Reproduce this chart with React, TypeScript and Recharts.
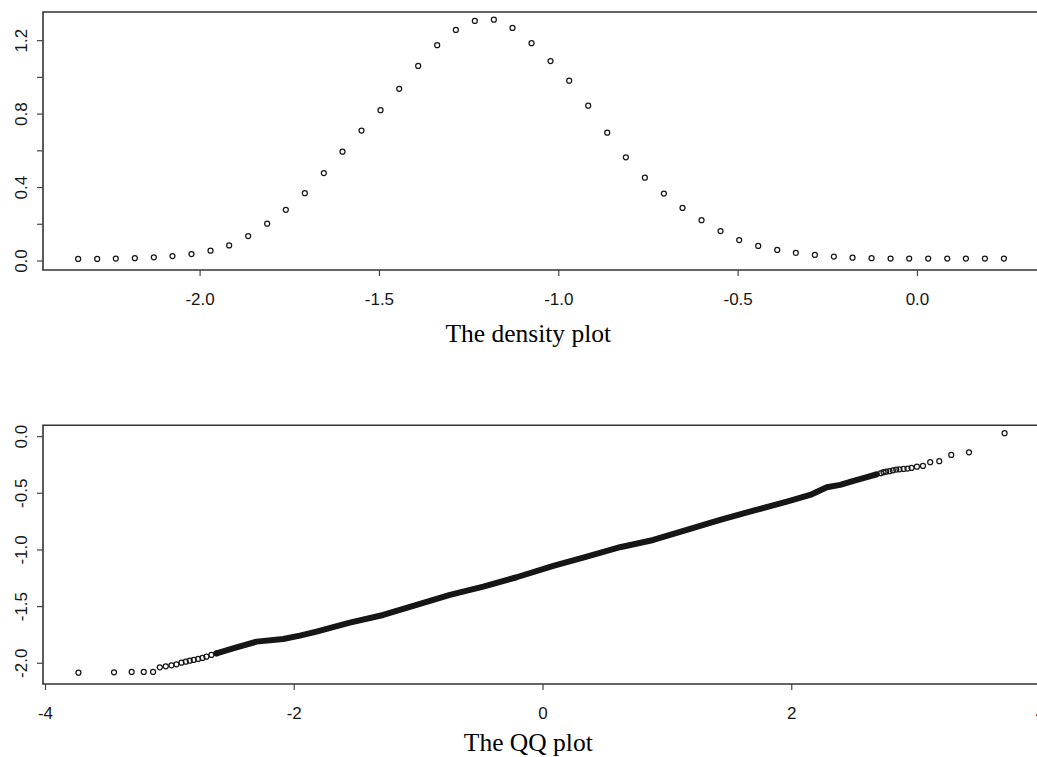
import React from 'react';
import { ScatterChart, Scatter, XAxis, YAxis, ReferenceArea, Label } from 'recharts';

// density plot: 50 evaluation points
const densityX = [
  -2.340, -2.287, -2.235, -2.182, -2.129, -2.077, -2.024, -1.971, -1.919, -1.866,
  -1.813, -1.761, -1.708, -1.655, -1.603, -1.550, -1.497, -1.445, -1.392, -1.339,
  -1.287, -1.234, -1.181, -1.129, -1.076, -1.023, -0.971, -0.918, -0.865, -0.813,
  -0.760, -0.707, -0.655, -0.602, -0.549, -0.497, -0.444, -0.391, -0.339, -0.286,
  -0.233, -0.181, -0.128, -0.075, -0.023, 0.030, 0.083, 0.135, 0.188, 0.241,
];
const densityY = [
  0.011, 0.011, 0.013, 0.015, 0.020, 0.027, 0.038, 0.056, 0.085, 0.136,
  0.203, 0.279, 0.369, 0.479, 0.595, 0.710, 0.821, 0.938, 1.062, 1.175,
  1.258, 1.307, 1.314, 1.269, 1.186, 1.089, 0.982, 0.846, 0.699, 0.565,
  0.454, 0.367, 0.289, 0.222, 0.163, 0.114, 0.082, 0.060, 0.044, 0.033,
  0.024, 0.018, 0.015, 0.013, 0.013, 0.013, 0.013, 0.013, 0.013, 0.013,
];

// QQ plot: the dense middle is drawn as a thick trace through these knots
const qqLineX = [
  -2.625, -2.492, -2.303, -2.089, -1.955, -1.821, -1.553, -1.285, -1.016, -0.748,
  -0.480, -0.212, 0.083, 0.352, 0.619, 0.887, 1.156, 1.424, 1.692, 1.961,
  2.148, 2.282, 2.389, 2.497, 2.604, 2.685,
];
const qqLineY = [
  -1.912, -1.868, -1.809, -1.786, -1.756, -1.721, -1.642, -1.574, -1.485, -1.397,
  -1.324, -1.241, -1.141, -1.059, -0.976, -0.912, -0.823, -0.735, -0.653, -0.574,
  -0.515, -0.447, -0.426, -0.390, -0.358, -0.332,
];

// QQ plot: separate points in both tails
const qqTailX = [
  -3.735, -3.449, -3.307, -3.210, -3.135, -3.081, -3.033, -2.987, -2.947, -2.907,
  -2.872, -2.840, -2.808, -2.773, -2.738, -2.706, -2.666, -2.625,
  2.717, 2.738, 2.759, 2.786, 2.813, 2.840, 2.866, 2.899, 2.931, 2.963,
  3.006, 3.055, 3.113, 3.186, 3.282, 3.425, 3.711,
];
const qqTailY = [
  -2.083, -2.080, -2.077, -2.077, -2.077, -2.036, -2.027, -2.018, -2.009, -1.995,
  -1.986, -1.977, -1.971, -1.962, -1.953, -1.942, -1.927, -1.912,
  -0.323, -0.314, -0.309, -0.305, -0.297, -0.291, -0.288, -0.285, -0.282, -0.276,
  -0.265, -0.259, -0.226, -0.217, -0.162, -0.138, 0.030,
];

const densityXTicks = [-2, -1.5, -1, -0.5, 0];
const densityYTicks = [0, 0.2, 0.4, 0.6, 0.8, 1.0, 1.2];
const densityYLabelled = [0, 0.4, 0.8, 1.2];
const qqXTicks = [-4, -2, 0, 2, 4];
const qqYTicks = [-2, -1.5, -1, -0.5, 0];

const densityXDomain: [number, number] = [-2.438, 0.35];
const densityYDomain: [number, number] = [-0.049, 1.356];
const qqXDomain: [number, number] = [-4.02, 4.02];
const qqYDomain: [number, number] = [-2.183, 0.1];

const zip = (xs: number[], ys: number[]) => xs.map((x, i) => ({ x, y: ys[i] }));
const densityRows = zip(densityX, densityY);
const qqLineRows = zip(qqLineX, qqLineY);
const qqTailRows = zip(qqTailX, qqTailY);

const SANS = '"Liberation Sans", Arial, Helvetica, sans-serif';
const SERIF = '"Liberation Serif", "Times New Roman", serif';
const INK = '#161616';
const f1 = (v: number) => v.toFixed(1);
const f0 = (v: number) => String(v);

function Ring(props: any) {
  const { cx, cy } = props;
  if (cx == null || cy == null) return <g />;
  return <circle cx={cx} cy={cy} r={2.5} fill="none" stroke={INK} strokeWidth={1.25} />;
}

function XTick({ x, y, payload, fmt }: any) {
  return (
    <text x={x} y={y + 29} textAnchor="middle" fontSize={17} fontFamily={SANS} fill={INK}>
      {fmt(payload.value)}
    </text>
  );
}

function YTick({ x, y, payload, fmt, show }: any) {
  if (show && !show.includes(payload.value)) return <g />;
  const bx = x - 10;
  return (
    <text
      x={bx} y={y} transform={`rotate(-90 ${bx} ${y})`}
      textAnchor="middle" fontSize={17} fontFamily={SANS} fill={INK}
    >
      {fmt(payload.value)}
    </text>
  );
}

function Title({ viewBox, text, dy }: any) {
  const vb = viewBox || { x: 43, y: 0, width: 1000 };
  return (
    <text
      x={vb.x + vb.width / 2 - 14.7} y={vb.y + dy}
      textAnchor="middle" fontSize={25.5} fontFamily={SERIF} fill="#000"
    >
      {text}
    </text>
  );
}

const tickLine = { stroke: '#444', strokeWidth: 1.2 };

export default function App() {
  return (
    <div style={{ position: 'fixed', left: 0, top: 0, width: 1037, height: 757, overflow: 'hidden', background: '#fff' }}>
      <div style={{ position: 'absolute', left: 0, top: 0 }}>
        <ScatterChart width={1060} height={360} margin={{ top: 12, right: 17, bottom: 0, left: 0 }}>
          <XAxis
            type="number" dataKey="x" domain={densityXDomain} ticks={densityXTicks}
            allowDataOverflow interval={0} axisLine={false} tickLine={tickLine}
            tickSize={6} tickMargin={0} height={90}
            tick={(p: any) => <XTick {...p} fmt={f1} />}
          >
            <Label content={(p: any) => <Title {...p} text="The density plot" dy={71.5} />} />
          </XAxis>
          <YAxis
            type="number" dataKey="y" domain={densityYDomain} ticks={densityYTicks}
            allowDataOverflow interval={0} axisLine={false} tickLine={tickLine}
            tickSize={6} tickMargin={0} width={43}
            tick={(p: any) => <YTick {...p} fmt={f1} show={densityYLabelled} />}
          />
          <ReferenceArea
            x1={densityXDomain[0]} x2={densityXDomain[1]} y1={densityYDomain[0]} y2={densityYDomain[1]}
            fill="none" stroke="#333" strokeWidth={1.6} ifOverflow="visible"
          />
          <Scatter data={densityRows} shape={Ring} isAnimationActive={false} />
        </ScatterChart>
      </div>
      <div style={{ position: 'absolute', left: 0, top: 400 }}>
        <ScatterChart width={1060} height={357} margin={{ top: 25.3, right: 17, bottom: 0, left: 0 }}>
          <XAxis
            type="number" dataKey="x" domain={qqXDomain} ticks={qqXTicks}
            allowDataOverflow interval={0} axisLine={false} tickLine={tickLine}
            tickSize={6} tickMargin={0} height={73}
            tick={(p: any) => <XTick {...p} fmt={f0} />}
          >
            <Label content={(p: any) => <Title {...p} text="The QQ plot" dy={67.3} />} />
          </XAxis>
          <YAxis
            type="number" dataKey="y" domain={qqYDomain} ticks={qqYTicks}
            allowDataOverflow interval={0} axisLine={false} tickLine={tickLine}
            tickSize={6} tickMargin={0} width={43}
            tick={(p: any) => <YTick {...p} fmt={f1} />}
          />
          <ReferenceArea
            x1={qqXDomain[0]} x2={qqXDomain[1]} y1={qqYDomain[0]} y2={qqYDomain[1]}
            fill="none" stroke="#333" strokeWidth={1.6} ifOverflow="visible"
          />
          <Scatter
            data={qqLineRows}
            line={{ stroke: INK, strokeWidth: 6, strokeLinecap: 'round', strokeLinejoin: 'round' }}
            shape={() => <g />}
            isAnimationActive={false}
          />
          <Scatter data={qqTailRows} shape={Ring} isAnimationActive={false} />
        </ScatterChart>
      </div>
    </div>
  );
}
